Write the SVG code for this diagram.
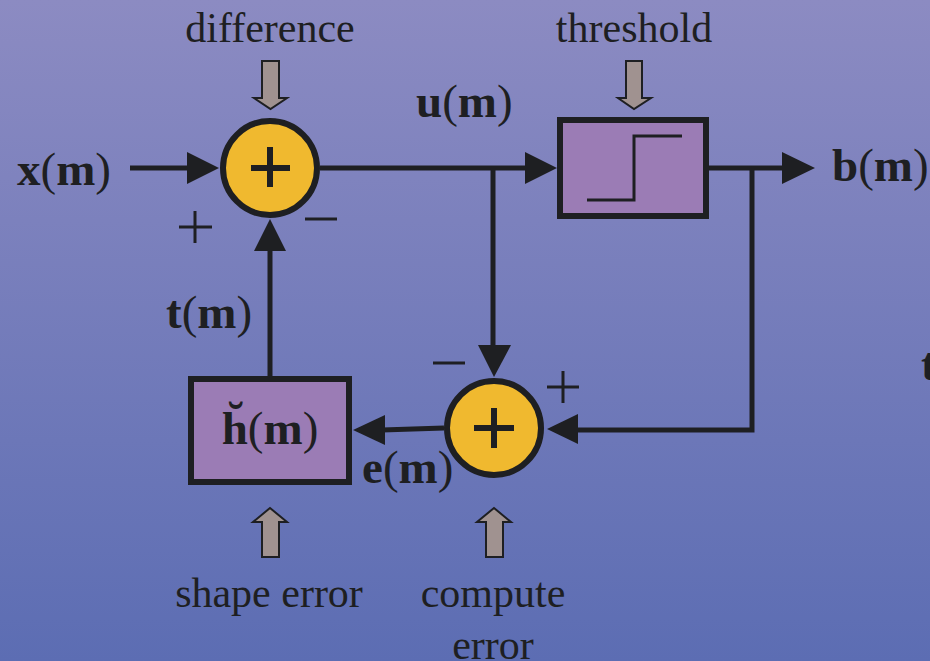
<svg xmlns="http://www.w3.org/2000/svg" width="930" height="661" viewBox="0 0 930 661">
<defs>
<linearGradient id="bg" x1="0" y1="0" x2="0" y2="1">
<stop offset="0" stop-color="#8c8bc2"/>
<stop offset="1" stop-color="#5c6db3"/>
</linearGradient>
<style>
.ln{stroke:#1e1f22;stroke-width:5;fill:none}
.ah{fill:#1e1f22}
.sum{fill:#f0b92f;stroke:#1e1f22;stroke-width:6}
.box{fill:#9b7cb5;stroke:#1e1f22;stroke-width:6}
.sg{stroke:#1e1f22;stroke-width:6;fill:none}
.sm{stroke:#1e1f22;stroke-width:3;fill:none}
.ga{fill:#a09290;stroke:#1e1f22;stroke-width:2}
.lab{font-family:"Liberation Serif",serif;font-size:42px;fill:#1e1f22;text-anchor:middle}
.var{font-family:"Liberation Serif",serif;font-size:47px;font-weight:bold;fill:#1e1f22}
.p{font-weight:normal}
</style>
</defs>
<rect width="930" height="661" fill="url(#bg)"/>

<g id="connectors">
<line class="ln" x1="130" y1="168" x2="190" y2="168"/>
<polygon class="ah" points="187,152 219,168 187,184"/>
<line class="ln" x1="320" y1="168" x2="530" y2="168"/>
<polygon class="ah" points="525,152 557,168 525,184"/>
<line class="ln" x1="709" y1="168" x2="785" y2="168"/>
<polygon class="ah" points="782,152 815,168 782,184"/>
<line class="ln" x1="493" y1="168" x2="493" y2="350"/>
<polygon class="ah" points="478,345 511,345 494,377"/>
<polyline class="ln" points="752,168 752,430 575,430"/>
<polygon class="ah" points="578,414 547,429 578,444"/>
<line class="ln" x1="444" y1="428" x2="382" y2="430"/>
<polygon class="ah" points="385,415 353,430 385,445"/>
<line class="ln" x1="270" y1="378" x2="270" y2="248"/>
<polygon class="ah" points="254,251 286,251 270,219"/>
</g>

<g id="sum1">
<circle class="sum" cx="270" cy="168" r="47"/>
<line class="sg" x1="251" y1="168" x2="290" y2="168"/>
<line class="sg" x1="270" y1="147" x2="270" y2="187"/>
<line class="sm" x1="179" y1="227" x2="212" y2="227"/>
<line class="sm" x1="195" y1="211" x2="195" y2="243"/>
<line class="sm" x1="305" y1="219" x2="337" y2="219" stroke-width="4"/>
</g>

<g id="difference">
<polygon class="ga" points="262,61 279,61 279,98 287,98 270.5,109 254,98 262,98"/>
<text class="lab" x="270" y="42">difference</text>
</g>

<g id="threshold">
<rect class="box" x="560" y="120" width="146" height="96"/>
<polyline class="sm" points="587,200 634,200 634,136 682,136"/>
<polygon class="ga" points="626,61 642,61 642,98 651,98 634,109 618,98 626,98"/>
<text class="lab" x="634" y="42">threshold</text>
</g>

<g id="sum2">
<circle class="sum" cx="494" cy="428" r="47"/>
<line class="sg" x1="474" y1="428" x2="514" y2="428"/>
<line class="sg" x1="494" y1="408" x2="494" y2="448"/>
<line class="sm" x1="433" y1="363" x2="465" y2="363" stroke-width="4"/>
<line class="sm" x1="547" y1="387" x2="579" y2="387"/>
<line class="sm" x1="563" y1="371" x2="563" y2="403"/>
</g>

<g id="hbox">
<rect class="box" x="191" y="379" width="158" height="103"/>
<text class="var" x="270" y="444" text-anchor="middle">h̆<tspan class="p">(</tspan>m<tspan class="p">)</tspan></text>
</g>

<g id="shape-error">
<polygon class="ga" points="262,557 279,557 279,522 287,522 270,508 253,522 262,522"/>
<text class="lab" x="269" y="607">shape error</text>
</g>

<g id="compute-error">
<polygon class="ga" points="486,557 503,557 503,522 511,522 494,508 477,522 486,522"/>
<text class="lab" x="493" y="607">compute</text>
<text class="lab" x="493" y="659">error</text>
</g>

<g id="labels">
<text class="var" x="17" y="185">x<tspan class="p">(</tspan>m<tspan class="p">)</tspan></text>
<text class="var" x="416" y="117">u<tspan class="p">(</tspan>m<tspan class="p">)</tspan></text>
<text class="var" x="832" y="181">b<tspan class="p">(</tspan>m<tspan class="p">)</tspan></text>
<text class="var" x="166" y="328">t<tspan class="p">(</tspan>m<tspan class="p">)</tspan></text>
<text class="var" x="362" y="483">e<tspan class="p">(</tspan>m<tspan class="p">)</tspan></text>
<text class="var" x="921" y="380">t</text>
</g>
</svg>
